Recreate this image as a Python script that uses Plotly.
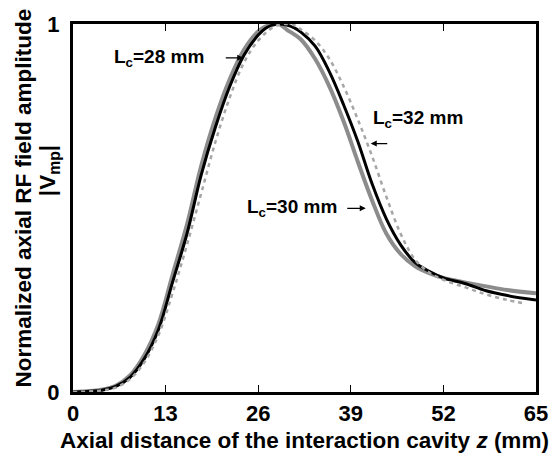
import plotly.graph_objects as go

# Axial positions (mm) and normalized |Vmp| for each cavity length
z_28 = [0, 4, 6, 8, 10, 12, 14, 16, 18, 20, 22, 24, 26, 27, 28, 28.5, 29, 30, 32, 34, 36, 38, 40, 42, 44, 46, 48, 50, 52, 55, 58, 61, 65]
v_28 = [0, 0.006, 0.017, 0.045, 0.10, 0.185, 0.32, 0.455, 0.615, 0.745, 0.85, 0.93, 0.98, 0.993, 0.999, 1.0, 0.999, 0.985, 0.958, 0.905, 0.83, 0.735, 0.625, 0.52, 0.43, 0.375, 0.342, 0.323, 0.31, 0.298, 0.287, 0.277, 0.268]

z_30 = [0, 4, 6, 8, 10, 12, 14, 16, 18, 20, 22, 24, 26, 27, 28, 29, 30, 31, 32, 34, 36, 38, 40, 42, 44, 46, 48, 50, 52, 55, 58, 61, 65]
v_30 = [0, 0.005, 0.015, 0.04, 0.09, 0.17, 0.30, 0.43, 0.59, 0.72, 0.83, 0.915, 0.97, 0.988, 0.997, 1.0, 0.997, 0.99, 0.978, 0.94, 0.87, 0.78, 0.68, 0.565, 0.47, 0.40, 0.352, 0.328, 0.31, 0.295, 0.275, 0.262, 0.25]

z_32 = [0, 4, 6, 8, 10, 12, 14, 16, 18, 20, 22, 24, 26, 28, 29, 30, 31, 32, 34, 36, 38, 40, 42, 44, 46, 48, 50, 52, 55, 58, 61, 63.5]
v_32 = [0, 0.004, 0.012, 0.035, 0.08, 0.155, 0.27, 0.40, 0.54, 0.68, 0.80, 0.895, 0.955, 0.99, 0.998, 1.0, 0.997, 0.985, 0.955, 0.905, 0.83, 0.74, 0.64, 0.53, 0.43, 0.36, 0.325, 0.305, 0.285, 0.265, 0.25, 0.24]

x_ticks = [0, 13, 26, 39, 52, 65]
y_ticks = [0, 1]

FONT = "Arial, Liberation Sans, sans-serif"

fig = go.Figure()
fig.add_trace(go.Scatter(x=z_28, y=v_28, mode="lines", line=dict(color="#8c8c8c", width=4, shape="spline"), showlegend=False))
fig.add_trace(go.Scatter(x=z_30, y=v_30, mode="lines", line=dict(color="#000000", width=3, shape="spline"), showlegend=False))
fig.add_trace(go.Scatter(x=z_32, y=v_32, mode="lines", line=dict(color="#a6a6a6", width=2.5, dash="4px,4px", shape="spline"), showlegend=False))

fig.update_layout(
    width=560, height=457,
    margin=dict(l=73, r=14, t=23, b=65),
    plot_bgcolor="white", paper_bgcolor="white",
    font=dict(family=FONT, size=19, color="black", weight="bold"),
    xaxis=dict(range=[0, 65], tickvals=x_ticks, ticktext=[str(t) for t in x_ticks],
               ticks="inside", ticklen=7, tickwidth=1, tickcolor="black",
               showline=True, linewidth=3, linecolor="black", mirror="ticks",
               showgrid=False, zeroline=False, tickfont=dict(size=22, weight="bold")),
    yaxis=dict(range=[0, 1], tickvals=y_ticks, ticktext=["0", "1"], ticks="",
               showline=True, linewidth=3, linecolor="black", mirror=True,
               showgrid=False, zeroline=False, ticklabelstandoff=6,
               tickfont=dict(size=22, weight="bold")),
)

W = 473.0
H = 369.0
def px(xp):
    return (xp - 73) / W
def py(yp):
    return (392 - yp) / H

annots = [
    dict(text="Normalized axial RF field amplitude", x=px(22), y=py(198), textangle=-90, size=22.5),
    dict(text="|V<sub>mp</sub>|", x=px(48), y=py(170), textangle=-90, size=22.5),
    dict(text="Axial distance of the interaction cavity <i>z</i> (mm)", x=px(309), y=py(441), size=22.5),
    dict(text="L<sub>c</sub>=28 mm", x=px(161), y=py(57), size=19),
    dict(text="L<sub>c</sub>=32 mm", x=px(425), y=py(118), size=19),
    dict(text="L<sub>c</sub>=30 mm", x=px(297), y=py(208), size=19),
]
for a in annots:
    size = a.pop("size")
    fig.add_annotation(xref="paper", yref="paper", showarrow=False, xanchor="center", yanchor="middle",
                       font=dict(family=FONT, size=size, color="black", weight="bold"), **a)

# arrows pointing at curves (tip in data coords, tail offset in pixels)
arrows = [(23.9, 0.908, -19), (41.8, 0.675, 18), (41.1, 0.499, -20)]
for ax_, ay_, off in arrows:
    fig.add_annotation(x=ax_, y=ay_, xref="x", yref="y", text="", showarrow=True,
                       ax=off, ay=0, arrowhead=2, arrowsize=1, arrowwidth=1.2, arrowcolor="black")

fig.write_html("out.html")
